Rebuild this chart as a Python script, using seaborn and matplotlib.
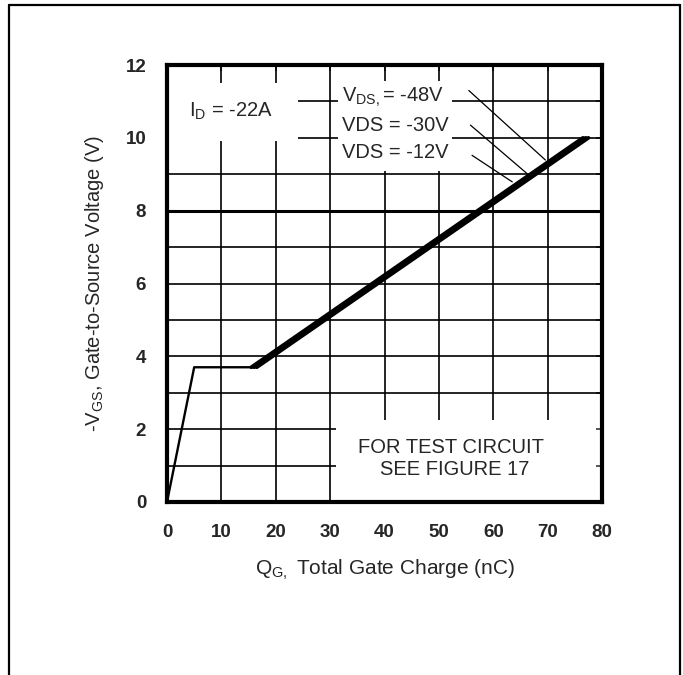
import matplotlib
matplotlib.use('Agg')
import matplotlib.pyplot as plt
import seaborn as sns
import pandas as pd
from matplotlib.lines import Line2D

# gate charge curve
qg_common = [0, 5.0, 15.5]
vgs_common = [0, 3.7, 3.7]

vds_labels = ['-12V', '-30V', '-48V']
qg_start = [15.5, 16.0, 16.5]
qg_end = [76.5, 77.0, 77.5]
vgs_start = [3.7, 3.7, 3.7]
vgs_end = [10.0, 10.0, 10.0]

# leader lines from labels to curves
lead_x0 = [56.1, 55.8, 55.5]
lead_y0 = [9.52, 10.35, 11.3]
lead_x1 = [63.5, 66.2, 69.6]
lead_y1 = [8.79, 9.02, 9.39]

xticks = [0, 10, 20, 30, 40, 50, 60, 70, 80]
yticks = [0, 2, 4, 6, 8, 10, 12]

sns.set_style('white')
plt.rcParams['font.family'] = ['Liberation Sans', 'DejaVu Sans']
plt.rcParams['mathtext.fontset'] = 'custom'
plt.rcParams['mathtext.rm'] = 'Liberation Sans'

fig = plt.figure(figsize=(6.83, 6.75), dpi=100)
ax = fig.add_axes([167/683, 1 - 502/675, 435/683, 437/675])

# grid, broken where the notes sit
gc = 'black'
glw = 1.2
for y in [3, 4, 5, 6, 7, 9]:
    ax.hlines(y, 0, 80, color=gc, lw=glw, zorder=1)
ax.hlines(8, 0, 80, color=gc, lw=2.2, zorder=1)
for y in [1, 2]:
    ax.hlines(y, 0, 31, color=gc, lw=glw, zorder=1)
for y in [10, 11]:
    ax.hlines(y, 24, 31.5, color=gc, lw=glw, zorder=1)
    ax.hlines(y, 52.5, 80, color=gc, lw=glw, zorder=1)
for x in [10, 20]:
    ax.vlines(x, 0, 9.9, color=gc, lw=glw, zorder=1)
    ax.vlines(x, 11.5, 12, color=gc, lw=glw, zorder=1)
ax.vlines(30, 0, 12, color=gc, lw=glw, zorder=1)
for x in [40, 50]:
    ax.vlines(x, 2.25, 9.1, color=gc, lw=glw, zorder=1)
    ax.vlines(x, 11.55, 12, color=gc, lw=glw, zorder=1)
for x in [60, 70]:
    ax.vlines(x, 2.25, 12, color=gc, lw=glw, zorder=1)

df0 = pd.DataFrame({'qg': qg_common, 'vgs': vgs_common})
sns.lineplot(data=df0, x='qg', y='vgs', color='black', lw=1.7, sort=False,
             ax=ax, zorder=3)
for i, lab in enumerate(vds_labels):
    d = pd.DataFrame({'qg': [qg_start[i], qg_end[i]],
                      'vgs': [vgs_start[i], vgs_end[i]]})
    sns.lineplot(data=d, x='qg', y='vgs', color='black', lw=2.7,
                 sort=False, ax=ax, zorder=3)
    ax.plot([lead_x0[i], lead_x1[i]], [lead_y0[i], lead_y1[i]],
            color='black', lw=0.9, zorder=3)

fs = 14.5
ax.text(4, 10.72, r'I$_\mathregular{D}$ = -22A', fontsize=fs, va='center')
ax.text(32.2, 11.1, r'V$_\mathregular{DS,}$= -48V', fontsize=fs, va='center')
ax.text(32.2, 10.33, 'VDS = -30V', fontsize=fs, va='center')
ax.text(32.2, 9.6, 'VDS = -12V', fontsize=fs, va='center')
ax.text(52.2, 1.5, 'FOR TEST CIRCUIT', fontsize=fs, ha='center', va='center')
ax.text(53.0, 0.88, 'SEE FIGURE 17', fontsize=fs, ha='center', va='center')

ax.set_xlim(0, 80)
ax.set_ylim(0, 12)
ax.set_xticks(xticks)
ax.set_yticks(yticks)
ax.set_yticks(range(1, 12, 2), minor=True)
ax.set_xticklabels([str(v) for v in xticks], fontsize=13.5, fontweight='bold')
ax.set_yticklabels([str(v) for v in yticks], fontsize=13.5, fontweight='bold')
ax.tick_params(which='both', direction='in', length=4, width=1.1,
               top=True, right=True)
ax.tick_params(axis='x', pad=16)
ax.tick_params(axis='y', pad=15)
for s in ax.spines.values():
    s.set_linewidth(3)
    s.set_color('black')

ax.set_xlabel(r'Q$_\mathregular{G,}$ Total Gate Charge (nC)', fontsize=15,
              labelpad=12)
ax.set_ylabel(r'-V$_\mathregular{GS}$, Gate-to-Source Voltage (V)',
              fontsize=14.5, labelpad=14)

# page frame around the figure
fig.add_artist(Line2D([9/683, 9/683], [0, 1 - 5/675], color='black', lw=1.6))
fig.add_artist(Line2D([9/683, 680/683], [1 - 5/675, 1 - 5/675],
                      color='black', lw=1.6))
fig.add_artist(Line2D([680/683, 680/683], [0, 1 - 5/675], color='black',
                      lw=1.6))

fig.savefig('out.png', dpi=100, facecolor='white')
